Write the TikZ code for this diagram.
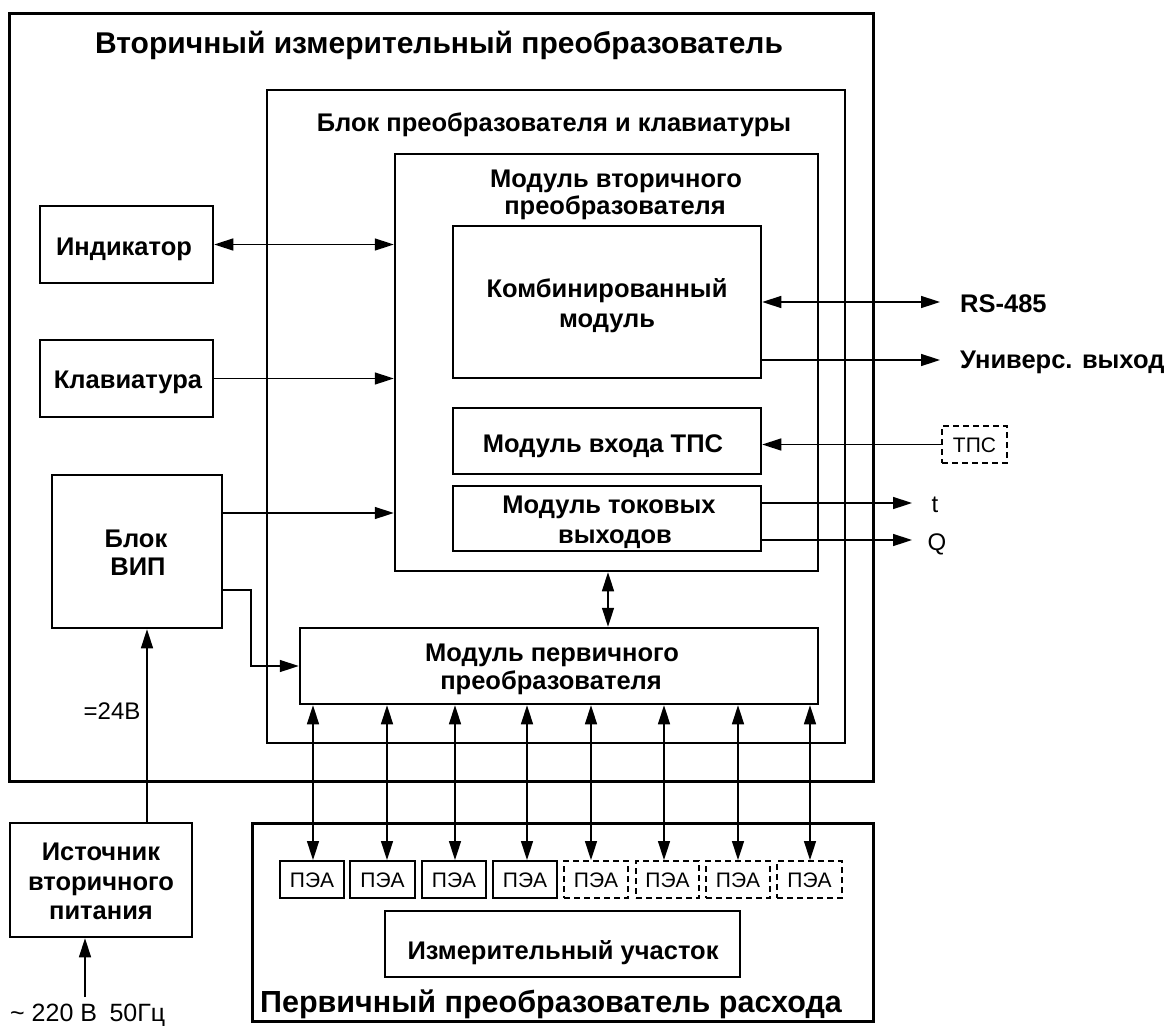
\documentclass[tikz,border=0pt]{standalone}
\usepackage{fontspec}
\setmainfont{Liberation Sans}
\usetikzlibrary{arrows.meta,fit}
\begin{document}
\begin{tikzpicture}[x=1pt,y=-1pt,
  outerblk/.style={draw, line width=3pt, inner sep=0pt},
  blk/.style={draw, line width=2.5pt, inner sep=0pt},
  peabox/.style={draw, line width=2pt, inner sep=0pt},
  peadash/.style={peabox, dash pattern=on 6pt off 4pt},
  conn/.style={line width=1.5pt, -{Triangle[length=19pt,width=12pt]}},
  bconn/.style={line width=1.5pt, {Triangle[length=19pt,width=12pt]}-{Triangle[length=19pt,width=12pt]}},
  lab/.style={anchor=base, inner sep=0pt, font=\bfseries\fontsize{25.5}{30}\selectfont},
  biglab/.style={anchor=base, inner sep=0pt, font=\bfseries\fontsize{30}{34}\selectfont},
  rlab/.style={anchor=base, inner sep=0pt, font=\fontsize{24}{28}\selectfont},
  plab/.style={anchor=base, inner sep=0pt, font=\fontsize{21}{24}\selectfont}
]
\useasboundingbox (0,0) rectangle (1169,1025);

% frames
\node[outerblk, fit={(9,14) (873,781)}] (sec) {};
\node[blk, fit={(267,90) (845,743)}] (bpk) {};
\node[blk, fit={(395,154) (818,571)}] (mvp) {};
\node[blk, fit={(453,226) (761,378)}] (komb) {};
\node[blk, fit={(453,408) (761,474)}] (tpsin) {};
\node[blk, fit={(453,486) (761,551)}] (cur) {};
\node[blk, fit={(40,206) (213,283)}] (ind) {};
\node[blk, fit={(40,340) (213,417)}] (kl) {};
\node[blk, fit={(52,475) (222,628)}] (vipb) {};
\node[blk, fit={(300,628) (818,704)}] (mpp) {};
\node[blk, fit={(10,823) (192,937)}] (src) {};
\node[outerblk, fit={(252,823) (873,1021)}] (ppr) {};
\node[blk, fit={(385,911) (740,977)}] (izm) {};
\node[peadash, fit={(942,426) (1007,463)}] (tpsx) {};

\node[peabox, fit={(280,861) (344,898)}] (p1) {};
\node[peabox, fit={(350,861) (415,898)}] (p2) {};
\node[peabox, fit={(422,861) (486,898)}] (p3) {};
\node[peabox, fit={(493,861) (557,898)}] (p4) {};
\node[peadash, fit={(564,861) (628,898)}] (p5) {};
\node[peadash, fit={(636,861) (699,898)}] (p6) {};
\node[peadash, fit={(706,861) (770,898)}] (p7) {};
\node[peadash, fit={(777,861) (842,898)}] (p8) {};

% texts
\node[biglab] (tsec) at (439,53) {Вторичный измерительный преобразователь};
\node[lab] (tbpk) at (554,131) {Блок преобразователя и клавиатуры};
\node[lab] (tmvp1) at (616,187) {Модуль вторичного};
\node[lab] (tmvp2) at (615,214) {преобразователя};
\node[lab] (tkomb1) at (607,297) {Комбинированный};
\node[lab] (tkomb2) at (607,327) {модуль};
\node[lab] (ttpsin) at (603,452) {Модуль входа ТПС};
\node[lab] (tcur1) at (609,513) {Модуль токовых};
\node[lab] (tcur2) at (615,543) {выходов};
\node[lab] (tind) at (124,255) {Индикатор};
\node[lab] (tkl) at (128,388) {Клавиатура};
\node[lab] (tvip1) at (136,547) {Блок};
\node[lab] (tvip2) at (138,575) {ВИП};
\node[lab] (tmpp1) at (552,661) {Модуль первичного};
\node[lab] (tmpp2) at (551,689) {преобразователя};
\node[lab] (tsrc1) at (101,860) {Источник};
\node[lab] (tsrc2) at (101,890) {вторичного};
\node[lab] (tsrc3) at (101,919) {питания};
\node[biglab, font=\bfseries\fontsize{30.5}{34}\selectfont] (tppr) at (551,1012) {Первичный преобразователь расхода};
\node[lab] (tizm) at (563,959) {Измерительный участок};
\node[lab, anchor=base west] (trs) at (960,312) {RS-485};
\node[lab, anchor=base west] (tuni) at (960,368) {Универс. выход};
\node[rlab] (tt) at (935,512) {t};
\node[rlab] (tq) at (937,550) {Q};
\node[rlab] (t24) at (112,719) {=24В};
\node[rlab, anchor=base west, font=\fontsize{25}{28}\selectfont] (tmains) at (10,1021) {\char"007E{} 220 В\enspace 50Гц};
\node[plab] (ttps) at (974.5,452) {ТПС};
\foreach \i in {1,...,8} {\node[plab] (tp\i) at (p\i.center |- 0,887) {ПЭА};}

% connectors
\coordinate (rs) at (940,302);
\coordinate (uni) at (940,360);
\coordinate (tout) at (912,503);
\coordinate (qout) at (912,540);
\coordinate (mains) at (85,997);
\coordinate (bend) at (251,590);

\draw[bconn] (ind.east) -- (ind.east -| mvp.west);
\draw[conn] (kl.east) -- (kl.east -| mvp.west);
\draw[conn] (vipb.east |- 0,513) -- (mvp.west |- 0,513);
\draw[conn] (vipb.east |- bend) -- (bend) |- (mpp.west);
\draw[conn] (src.north -| 147,0) -- (vipb.south -| 147,0);
\draw[conn] (mains) -- (mains |- src.south);
\draw[bconn] (mvp.south -| 608,0) -- (mpp.north -| 608,0);
\draw[bconn] (komb.east |- rs) -- (rs);
\draw[conn] (komb.east |- uni) -- (uni);
\draw[conn] (tpsx.west) -- (tpsx.west -| tpsin.east);
\draw[conn] (cur.east |- tout) -- (tout);
\draw[conn] (cur.east |- qout) -- (qout);

\foreach \i/\x in {1/313,2/387,3/455,4/527,5/591,6/664,7/738,8/810} {
  \draw[bconn] (mpp.south -| \x,0) -- (p\i.north -| \x,0);
}
\end{tikzpicture}
\end{document}
